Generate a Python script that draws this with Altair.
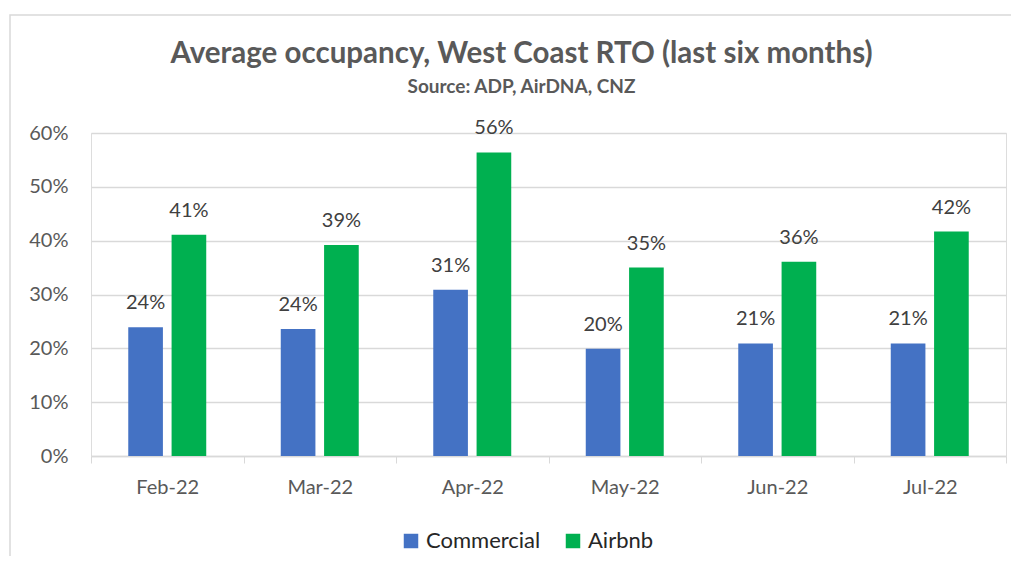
import altair as alt
import pandas as pd

months = ["Feb-22", "Mar-22", "Apr-22", "May-22", "Jun-22", "Jul-22"]
commercial = [0.239, 0.236, 0.309, 0.199, 0.209, 0.209]
airbnb = [0.411, 0.392, 0.564, 0.350, 0.361, 0.417]
series = ["Commercial", "Airbnb"]
colors = ["#4472C4", "#00B050"]

rows = []
for m, c, a in zip(months, commercial, airbnb):
    rows.append({"month": m, "series": "Commercial", "value": c})
    rows.append({"month": m, "series": "Airbnb", "value": a})
df = pd.DataFrame(rows)

FONT = "Lato"

x = alt.X("month:N", sort=months, title=None,
          scale=alt.Scale(paddingInner=0, paddingOuter=0),
          axis=alt.Axis(labelAngle=0, labelFontSize=20, labelColor="#595959",
                        labelFont=FONT, labelPadding=14, tickBand="extent",
                        tickSize=7, tickColor="#d9d9d9", domainColor="#d9d9d9",
                        domainWidth=1.5, grid=False))
xo = alt.XOffset("series:N", sort=series,
                 scale=alt.Scale(paddingInner=0.2, paddingOuter=0.86))
y = alt.Y("value:Q", title=None,
          scale=alt.Scale(domain=[0, 0.6]),
          axis=alt.Axis(format=".0%", values=[0, 0.1, 0.2, 0.3, 0.4, 0.5, 0.6],
                        labelFontSize=20, labelColor="#595959", labelFont=FONT,
                        labelPadding=23, tickSize=0, domain=False,
                        gridColor="#d9d9d9", gridWidth=1.5))
color = alt.Color("series:N", sort=series,
                  scale=alt.Scale(domain=series, range=colors),
                  legend=alt.Legend(title=None, orient="none", direction="horizontal",
                                    legendX=309, legendY=397, symbolType="square",
                                    symbolSize=210, symbolStrokeWidth=0,
                                    labelFontSize=22, labelFont=FONT,
                                    labelColor="#262626", columnPadding=21,
                                    symbolOffset=0, labelOffset=4))

base = alt.Chart(df)
bars = base.mark_bar().encode(x=x, xOffset=xo, y=y, color=color)
labels = base.mark_text(baseline="alphabetic", dy=-18, fontSize=20, font=FONT,
                        color="#404040").encode(
    x=x, xOffset=xo, y=y,
    text=alt.Text("value:Q", format=".0%"))

frame = alt.Chart(pd.DataFrame({"a": [0]})).mark_rect(
    fill=None, stroke="#d9d9d9", strokeWidth=1.5).encode(
    x=alt.value(-81), x2=alt.value(1100), y=alt.value(-118), y2=alt.value(600))

chart = alt.layer(frame, bars, labels).properties(
    width=915, height=323,
    autosize=alt.AutoSizeParams(type="none"),
    padding={"left": 83, "top": 125, "right": 5, "bottom": 100},
    title=alt.TitleParams(
        text="Average occupancy, West Coast RTO (last six months)",
        subtitle="Source: ADP, AirDNA, CNZ",
        anchor="middle", dx=-27, offset=-84,
        font=FONT, fontSize=29.5, fontWeight="bold", color="#595959",
        subtitleFont=FONT, subtitleFontSize=19, subtitleFontWeight="bold",
        subtitleColor="#595959", subtitlePadding=9),
).configure_view(stroke=None).configure(background="white")

chart.save("out.html", embed_options={"renderer": "svg", "actions": False})
